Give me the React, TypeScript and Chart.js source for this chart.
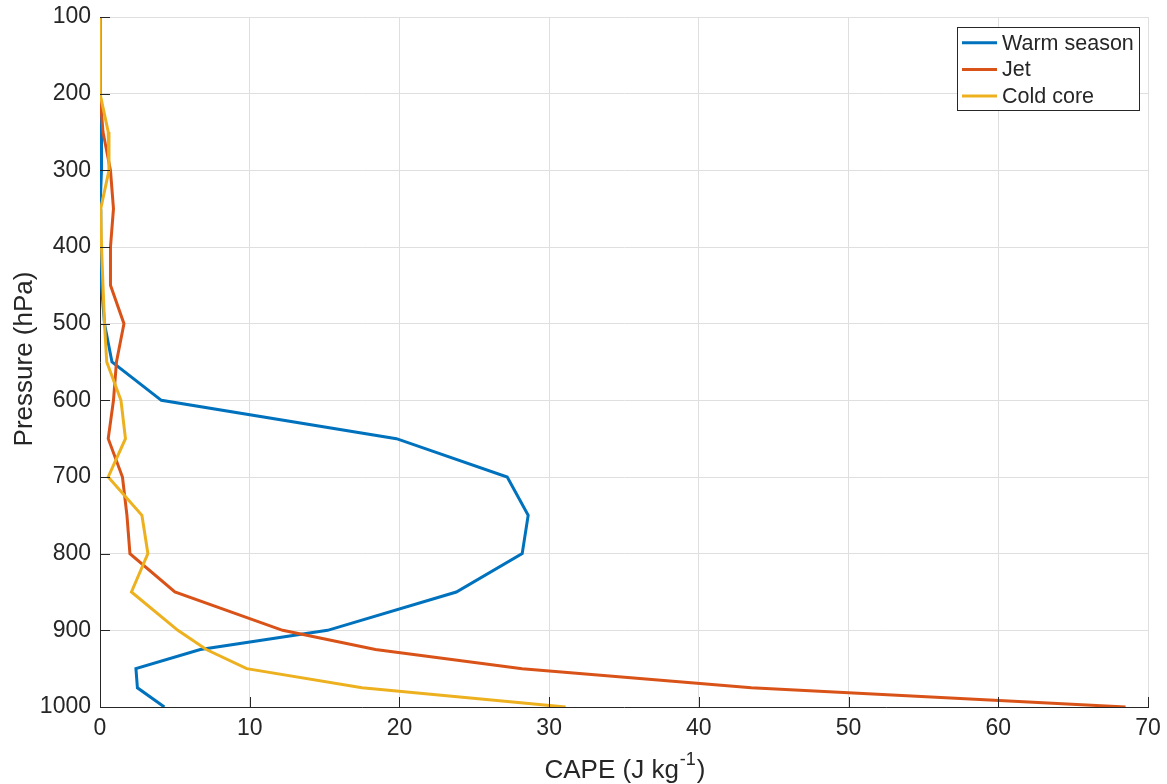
import React, { useEffect, useRef } from "react";
import { Chart, registerables } from "chart.js";

Chart.register(...registerables);

// ---- Data ----
const pressureLevels = [100, 150, 200, 250, 300, 350, 400, 450, 500, 550, 600, 650, 700, 750, 800, 850, 900, 925, 950, 975, 1000];
const warmSeason = [0, 0, 0, 0.1, 0.1, 0, 0.05, 0.1, 0.3, 0.8, 4.1, 19.8, 27.2, 28.6, 28.2, 23.8, 15.2, 6.7, 2.4, 2.5, 4.3];
const jet = [0, 0, 0, 0.2, 0.7, 0.9, 0.7, 0.7, 1.6, 1.1, 0.9, 0.55, 1.5, 1.8, 2.0, 5.0, 12.2, 18.4, 28.2, 43.5, 68.5];
const coldCore = [0, 0, 0, 0.55, 0.6, 0.05, 0.1, 0.2, 0.3, 0.45, 1.4, 1.7, 0.55, 2.8, 3.2, 2.1, 5.2, 7.1, 9.8, 17.5, 31.1];

const seriesLabels = ["Warm season", "Jet", "Cold core"];
const seriesColors = ["#0072BD", "#D95319", "#EDB120"];

const xMin = 0;
const xMax = 70;
const xStep = 10;
const yMin = 100;
const yMax = 1000;
const yStep = 100;

const xTitleMain = "CAPE (J kg";
const xTitleSup = "-1";
const xTitleEnd = ")";
const yTitle = "Pressure (hPa)";

const FONT = '"Liberation Sans", Arial, Helvetica, sans-serif';
const TEXT = "#262626";
const GRID = "#dfdfdf";

const toPoints = (vals: number[]) => vals.map((v, i) => ({ x: v, y: pressureLevels[i] }));

const zeroPadding = (s: any) => {
  s.paddingTop = 0;
  s.paddingBottom = 0;
  s.paddingLeft = 0;
  s.paddingRight = 0;
};

const decorPlugin = {
  id: "decor",
  afterDraw(chart: any) {
    const ctx: CanvasRenderingContext2D = chart.ctx;
    const { left, right, top, bottom } = chart.chartArea;
    const xs = chart.scales.x;
    const ys = chart.scales.y;
    ctx.save();

    // inward tick marks
    ctx.strokeStyle = TEXT;
    ctx.lineWidth = 1;
    ctx.beginPath();
    xs.ticks.forEach((t: any) => {
      const px = Math.round(xs.getPixelForValue(t.value)) + 0.5;
      ctx.moveTo(px, bottom);
      ctx.lineTo(px, bottom - 10);
    });
    ys.ticks.forEach((t: any) => {
      const py = Math.round(ys.getPixelForValue(t.value)) + 0.5;
      ctx.moveTo(left, py);
      ctx.lineTo(left + 10, py);
    });
    ctx.stroke();

    // x title with superscript
    ctx.fillStyle = TEXT;
    ctx.textBaseline = "alphabetic";
    ctx.textAlign = "left";
    const mainFont = `26px ${FONT}`;
    const supFont = `18px ${FONT}`;
    ctx.font = mainFont;
    const w1 = ctx.measureText(xTitleMain).width;
    const w3 = ctx.measureText(xTitleEnd).width;
    ctx.font = supFont;
    const w2 = ctx.measureText(xTitleSup).width;
    const total = w1 + w2 + w3;
    const cx = (left + right) / 2;
    const x0 = cx - total / 2;
    const base = 778;
    ctx.font = mainFont;
    ctx.fillText(xTitleMain, x0, base);
    ctx.font = supFont;
    ctx.fillText(xTitleSup, x0 + w1 + 1, base - 13);
    ctx.font = mainFont;
    ctx.fillText(xTitleEnd, x0 + w1 + w2 + 2, base);

    // y title
    ctx.save();
    ctx.translate(32, (top + bottom) / 2 - 3);
    ctx.rotate(-Math.PI / 2);
    ctx.textAlign = "center";
    ctx.font = `26px ${FONT}`;
    ctx.fillText(yTitle, 0, 0);
    ctx.restore();

    // legend
    const boxRight = right - 9;
    const boxLeft = boxRight - 182;
    const boxTop = top + 10;
    const rowH = 26.7;
    const boxH = 83;
    ctx.fillStyle = "#ffffff";
    ctx.fillRect(boxLeft, boxTop, boxRight - boxLeft, boxH);
    ctx.strokeStyle = TEXT;
    ctx.lineWidth = 1;
    ctx.strokeRect(Math.round(boxLeft) + 0.5, Math.round(boxTop) + 0.5, Math.round(boxRight - boxLeft), boxH);
    ctx.font = `21.5px ${FONT}`;
    ctx.textBaseline = "middle";
    ctx.textAlign = "left";
    chart.data.datasets.forEach((ds: any, i: number) => {
      const cy = boxTop + 15.7 + i * rowH;
      ctx.strokeStyle = ds.borderColor;
      ctx.lineWidth = 3;
      ctx.beginPath();
      ctx.moveTo(boxLeft + 5, cy);
      ctx.lineTo(boxLeft + 40, cy);
      ctx.stroke();
      ctx.fillStyle = TEXT;
      ctx.fillText(ds.label, boxLeft + 45, cy + 1);
    });

    ctx.restore();
  },
};

export default function App() {
  const canvasRef = useRef<HTMLCanvasElement | null>(null);

  useEffect(() => {
    document.body.style.margin = "0";
    const canvas = canvasRef.current;
    if (!canvas) return;
    const seriesData = [warmSeason, jet, coldCore];
    const chart = new Chart(canvas, {
      type: "line",
      data: {
        datasets: seriesData.map((vals, i) => ({
          label: seriesLabels[i],
          data: toPoints(vals),
          borderColor: seriesColors[i],
          backgroundColor: seriesColors[i],
          borderWidth: 3,
          pointRadius: 0,
          tension: 0,
          fill: false,
          order: seriesData.length - i,
        })),
      },
      options: {
        responsive: false,
        animation: false,
        devicePixelRatio: 1,
        layout: { padding: { top: 17, right: 19, left: 0, bottom: 0 } },
        plugins: {
          legend: { display: false },
          tooltip: { enabled: false },
          title: { display: false },
        },
        scales: {
          x: {
            type: "linear",
            min: xMin,
            max: xMax,
            ticks: {
              stepSize: xStep,
              color: TEXT,
              font: { family: FONT, size: 23 },
              padding: 8,
              maxRotation: 0,
              callback: (v: any) => String(v),
            },
            grid: { color: GRID, drawTicks: false, lineWidth: 1 },
            border: { color: TEXT, width: 1 },
            afterFit: (s: any) => {
              s.height = 77;
              zeroPadding(s);
            },
          },
          y: {
            type: "linear",
            reverse: true,
            min: yMin,
            max: yMax,
            ticks: {
              stepSize: yStep,
              color: TEXT,
              font: { family: FONT, size: 23 },
              padding: 9,
              callback: (v: any) => String(v),
            },
            grid: { color: GRID, drawTicks: false, lineWidth: 1 },
            border: { color: TEXT, width: 1 },
            afterFit: (s: any) => {
              s.width = 100;
              zeroPadding(s);
            },
          },
        },
      },
      plugins: [decorPlugin],
    });
    return () => chart.destroy();
  }, []);

  return (
    <div style={{ width: 1167, height: 784, background: "#ffffff" }}>
      <canvas ref={canvasRef} width={1167} height={784} style={{ display: "block" }} />
    </div>
  );
}
